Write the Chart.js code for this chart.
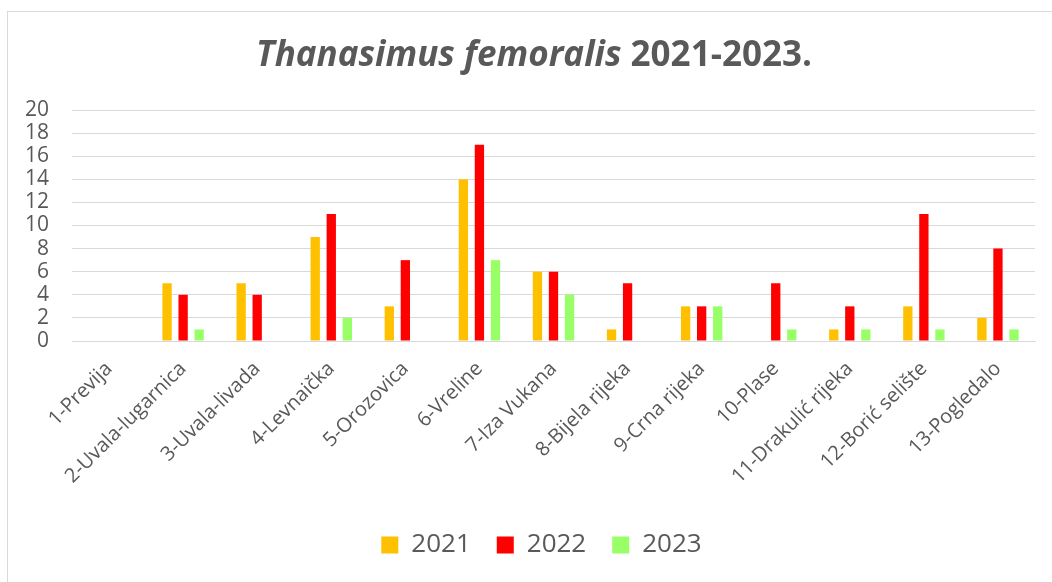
<!DOCTYPE html>
<html>
<head>
<meta charset="utf-8">
<script src="https://cdn.jsdelivr.net/npm/chart.js@4"></script>
<style>
  html, body { margin: 0; padding: 0; background: #fff; overflow: hidden; }
  #frame { position: absolute; left: 7px; top: 11px; width: 1200px; height: 700px; border: 1px solid #d9d9d9; }
  #wrap { position: absolute; left: 0; top: 0; width: 1052px; height: 582px; }
</style>
</head>
<body>
<div id="frame"></div>
<div id="wrap"><canvas id="chart"></canvas></div>
<script>
const sites = [
  "1-Previja", "2-Uvala-lugarnica", "3-Uvala-livada", "4-Levnaička", "5-Orozovica",
  "6-Vreline", "7-Iza Vukana", "8-Bijela rijeka", "9-Crna rijeka", "10-Plase",
  "11-Drakulić rijeka", "12-Borić selište", "13-Pogledalo"
];
const y2021 = [0, 5, 5, 9, 3, 14, 6, 1, 3, 0, 1, 3, 2];
const y2022 = [0, 4, 4, 11, 7, 17, 6, 5, 3, 5, 3, 11, 8];
const y2023 = [0, 1, 0, 2, 0, 7, 4, 0, 3, 1, 1, 1, 1];

const textCol = "#595959";
const fontFam = "'Open Sans', Lato, sans-serif";

// title: italic species name followed by bold years
const titlePlugin = {
  id: "mixedTitle",
  afterDraw(chart) {
    const c = chart.ctx;
    const italic = "Thanasimus femoralis ";
    const plain = "2021-2023.";
    c.save();
    c.fillStyle = textCol;
    c.textBaseline = "alphabetic";
    c.font = "italic bold 35px " + fontFam;
    const w1 = c.measureText(italic).width;
    c.font = "bold 35px " + fontFam;
    const w2 = c.measureText(plain).width;
    const x0 = 534 - (w1 + w2) / 2;
    c.font = "italic bold 35px " + fontFam;
    c.fillText(italic, x0, 66);
    c.font = "bold 35px " + fontFam;
    c.fillText(plain, x0 + w1, 66);
    c.restore();
  }
};

// legend sits a bit right of centre in the original
const legendShift = {
  id: "legendShift",
  afterLayout(chart) {
    chart.legend.left += 24;
    chart.legend.right += 24;
  }
};

function ds(label, data, color) {
  return {
    label,
    data,
    backgroundColor: color,
    borderWidth: 0,
    categoryPercentage: 0.65,
    barPercentage: 0.58,
  };
}

new Chart(document.getElementById("chart"), {
  type: "bar",
  data: {
    labels: sites,
    datasets: [
      ds("2021", y2021, "#ffc000"),
      ds("2022", y2022, "#ff0000"),
      ds("2023", y2023, "#99ff66"),
    ],
  },
  options: {
    responsive: true,
    maintainAspectRatio: false,
    animation: false,
    layout: { padding: { top: 110, right: 17, left: 0, bottom: 14 } },
    scales: {
      x: {
        grid: { display: false, drawTicks: false },
        border: { color: "#d9d9d9", width: 1 },
        ticks: {
          color: textCol,
          font: { family: fontFam, size: 20 },
          autoSkip: false,
          maxRotation: 45,
          minRotation: 45,
          padding: 16,
        },
        afterFit: (s) => { s.height = 165; },
      },
      y: {
        min: 0,
        max: 20,
        grid: { color: "#d9d9d9", drawTicks: false },
        border: { display: false },
        ticks: {
          stepSize: 2,
          autoSkip: false,
          color: textCol,
          font: { family: fontFam, size: 21 },
          padding: 23,
        },
        afterFit: (s) => { s.width = 72; },
      },
    },
    plugins: {
      title: { display: false },
      tooltip: { enabled: false },
      legend: {
        position: "bottom",
        labels: {
          color: textCol,
          font: { family: fontFam, size: 26 },
          boxWidth: 17,
          boxHeight: 17,
          padding: 26,
        },
      },
    },
  },
  plugins: [titlePlugin, legendShift],
});
</script>
</body>
</html>
